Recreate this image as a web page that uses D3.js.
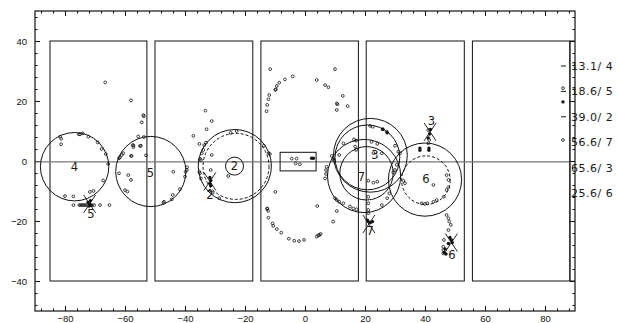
<!DOCTYPE html>
<html><head><meta charset="utf-8">
<script src="https://cdn.jsdelivr.net/npm/d3@7"></script>
<style>
body{margin:0;background:#fff}
svg{display:block}
.tk text{font-family:"Liberation Sans",Arial,sans-serif;font-size:9.5px;fill:#111}
.lbl{font-family:"DejaVu Sans",sans-serif;font-weight:normal;fill:#1a1a1a}
</style>
</head><body><svg id="c" width="618" height="323"></svg>
<script>
// ---- data (detector units) ----
const xTicks=[-80,-60,-40,-20,0,20,40,60,80];
const yTicks=[-40,-20,0,20,40];
const padX0=[-85,-50,-14.7,20.4,55.8];
const padX1=[-52.7,-17.4,17.8,53.1,88.3];
const padY=[-40,40];
const boxX=[-8.3,3.7];
const boxY=[-3.3,2.9];
const baseY=-0.3;
// solid rings
const ringX=[-76.8,-51.4,-23.4,21.8,20.8,19.7,20.5,40.0];
const ringY=[-1.9,-3.5,-1.7,1.9,1.2,-5.0,-4.1,-6.2];
const ringR=[11.4,11.7,12.2,12.3,10.8,12.2,8.9,12.2];
// dashed rings
const dRingX=[-23.0,40.3];
const dRingY=[-1.8,-6.4];
const dRingR=[11.0,8.1];
// ring labels
const ringLabel=["4","5","2","3","7","6"];
const ringLabelX=[-76.9,-51.5,-23.5,23.3,18.8,40.3];
const ringLabelY=[-2.1,-3.9,-1.7,2.0,-5.2,-6.1];
const circledLabel=[false,false,true,false,false,false];
// track stubs (stars)
const starX=[-71.8,-31.7,41.7,21.3,48.8];
const starY=[-14.3,-6.8,9.7,-21.0,-27.2];
const starLabel=["5","2","3","7","6"];
const starLabelX=[-71.4,-31.7,42.1,21.7,49.0];
const starLabelY=[-17.6,-11.3,13.5,-23.3,-31.3];
// open hits
const hitX=[-66.6,-58,-53.9,-53.7,-54.4,-55.6,-53.7,-54.7,-57.2,-53,-57.8,
-81.6,-81.3,-81.3,-75.4,-75,-74.1,-72.2,-69.1,-67.8,-66.4,-65.6,-67.3,-70.5,-71.7,-80,-77.2,
-77.2,-75.2,-74.8,-74.3,-73.9,-73.3,-72.8,-71.1,-70.3,-68.3,-65.2,
-62,-61.7,-61.1,-60.6,-62,-58.9,-58,-60,-59.2,-57.4,-57.2,-58,-55,-47,
-43.9,-39.8,-39.4,-39.3,-40,-41.7,-44.1,-44.4,-47.2,
-37.2,-35.2,-33.2,-32.8,-31.1,-33.6,-33,-34.4,-33.9,-35,-34.7,-31.1,-35,-34.7,-31.4,-30.8,-31.7,-28.6,-25.6,-24.8,-22.8,-13.7,-12.1,-11.7,-9.9,-12.6,-35.2,
-4.4,-2.8,-3.1,-1.7,
-11.6,-4.1,-6.7,-8.6,-9.4,-9.7,-9.9,-11.9,-12.2,-12.6,-12.8,3.9,6.7,7.8,10,12.6,10.6,10.8,10.6,14.2,
-12.6,-12.3,-12.2,-10.8,-10.6,-9.4,-7.9,-5.4,-3.6,-2,-0.3,3.9,4.4,5.2,4.8,4.1,9.4,10.6,
21.7,22.6,25.9,27.2,16.3,17,22.2,24.1,30,12.8,31.1,31.7,16.7,17,25.6,22.8,11.4,8.9,9.4,9.7,7.2,7,7,6.7,30.6,30,29.4,21.1,22.8,24.1,10,10.6,11.4,12.8,15,16.1,17.2,21.1,21.1,21.1,21.1,25.6,27.4,28.1,
33.3,32.8,47.2,47.8,47.8,47.2,46.3,43.9,42.8,40.8,40,38.9,42.8,47.2,47.8,48.1,48.6,47.8,46.3,46.1,46.1,46.1,
41.1,41.4,41.1,
86,86];
const hitY=[26.2,20.2,15.3,14.9,12.9,8.2,8,5.1,5.2,1.9,1.7,
8.1,7.4,5.6,8.9,8.9,9.2,8.1,6.2,4,2.3,-1,-6.5,-10,-10.3,-11.7,-11.8,
-14.7,-14.7,-14.7,-14.7,-14.7,-14.7,-14.7,-14.7,-14.7,-14.7,-14.7,
0.9,1.2,2,2.6,-4.1,-4.7,-6.3,-9.7,-10.2,5.3,4.6,1.7,5,-13.6,
-3.6,-3.6,-3,-2.1,-5.2,-9.4,-11.3,-12.8,-13.9,
8.4,5.7,16.8,10.6,13.3,5.3,6.1,2.6,3.7,0.7,0.3,2,-4.1,-5.8,-3,-10.6,-9.9,-12.4,-5,9.4,10,5.1,2.6,2.3,-10.3,-15.8,-3.6,
0.8,0.8,-0.8,-1.1,
30.6,28.2,27.2,26.1,25,23.9,23.7,22,20.6,18.7,16.6,27,25.3,24.6,30.6,21.7,19.2,18.9,17,18.3,
-16,-16.6,-18.9,-20.8,-21.6,-22.7,-23.9,-25.9,-26.6,-26.7,-26.3,-25.2,-24.8,-24.3,-24.7,-15,-20.2,-16.7,
11.7,11.4,10.6,9.8,7.2,6.8,6.4,5.7,5.1,5.9,3.1,2.6,4.8,3.7,2.6,2.6,2,1.7,0.7,0.1,-1.9,-3,-4.3,-5.8,-1.3,-3,-3.8,-6.6,-7.2,-6.9,-12.4,-13,-13.6,-14.1,-15.2,-15.8,-16.1,-11.9,-14.1,-16.3,-17.4,-14.7,-12.4,-10.8,
-7.4,-6.6,-4.7,-6.3,-8.8,-9.7,-11.9,-13,-13.6,-14.1,-14.3,-14.1,-8,-18,-19.1,-20.2,-21.3,-23,-26.3,-28.6,-29.7,-30.8,
10.3,7,5.9,
24.3,7];
// filled hits
const fillX=[-71.8,-72.3,-71.3,-72.0,-71.5,-31.7,-31.4,-31.7,-31.4,41.5,41.8,41.1,38.3,41.3,38.3,41.3,21.1,21.8,22.5,20.8,48.3,48.8,49.1,47.8,46.7,46.4,47.0,27.4,25.9,2.2,2.8,86];
const fillY=[-14.3,-13.8,-14.8,-15.0,-13.2,-5.5,-6.5,-7.5,-8.2,9.0,10.5,7.7,4.3,4.3,3.6,3.6,-20.2,-20.5,-20.2,-19.7,-25.5,-26.3,-27.2,-27.5,-29.3,-30.5,-31.0,9.4,10.6,0.9,0.9,19.7];
// side summary labels
const sideLabels=["13.1/ 4","18.6/ 5","39.0/ 2","56.6/ 7","65.6/ 3","25.6/ 6"];
const sideDash=[true,true,true,false,false,false];

// ---- drawing ----
const svg=d3.select("#c");
const x=d3.scaleLinear().domain([-90,90]).range([35,575]);
const y=d3.scaleLinear().domain([-50,50]).range([311,11]);
const minorX=d3.range(-88,89,4).filter(v=>v%20!==0);
const minorY=d3.range(-48,49,4).filter(v=>v%20!==0);

function ax(gen,tr,vals,size,labels,pad){
  const g=svg.append("g").attr("class","tk").attr("transform",tr)
   .call(gen.tickValues(vals).tickSizeInner(size).tickSizeOuter(0).tickPadding(pad||3)
   .tickFormat(labels?d3.format("d"):""));
  g.select(".domain").remove();
  g.selectAll("line").attr("stroke","#111").attr("stroke-width",1);
  return g;
}
ax(d3.axisBottom(x),"translate(0,311)",xTicks,-5,true,4);
ax(d3.axisBottom(x),"translate(0,311)",minorX,-2.5,false);
ax(d3.axisTop(x),"translate(0,11)",xTicks,-5,false);
ax(d3.axisTop(x),"translate(0,11)",minorX,-2.5,false);
ax(d3.axisLeft(y),"translate(35,0)",yTicks,-5,true,8);
ax(d3.axisLeft(y),"translate(35,0)",minorY,-2.5,false);
ax(d3.axisRight(y),"translate(575,0)",yTicks,-5,false);
ax(d3.axisRight(y),"translate(575,0)",minorY,-2.5,false);

// pads
svg.append("g").selectAll("rect").data(padX0).join("rect")
 .attr("x",(d)=>x(d)).attr("y",y(padY[1]))
 .attr("width",(d,i)=>x(padX1[i])-x(d)).attr("height",y(padY[0])-y(padY[1]))
 .attr("fill","none").attr("stroke","#111").attr("stroke-width",1);
svg.append("g").selectAll("line").data(padY).join("line")
 .attr("x1",x(padX1[4])).attr("x2",x(90)).attr("y1",d=>y(d)).attr("y2",d=>y(d))
 .attr("stroke","#111");
// base line
svg.append("line").attr("x1",x(-90)).attr("x2",x(padX1[4])).attr("y1",y(baseY)).attr("y2",y(baseY))
 .attr("stroke","#777").attr("stroke-width",1.2);
// central box
svg.append("rect").attr("x",x(boxX[0])).attr("y",y(boxY[1]))
 .attr("width",x(boxX[1])-x(boxX[0])).attr("height",y(boxY[0])-y(boxY[1]))
 .attr("fill","none").attr("stroke","#111");

// rings
const k=x(1)-x(0);
svg.append("g").selectAll("circle").data(ringX).join("circle")
 .attr("cx",d=>x(d)).attr("cy",(d,i)=>y(ringY[i])).attr("r",(d,i)=>ringR[i]*k)
 .attr("fill","none").attr("stroke","#111").attr("stroke-width",1);
svg.append("g").selectAll("circle").data(dRingX).join("circle")
 .attr("cx",d=>x(d)).attr("cy",(d,i)=>y(dRingY[i])).attr("r",(d,i)=>dRingR[i]*k)
 .attr("fill","none").attr("stroke","#111").attr("stroke-width",1).attr("stroke-dasharray","3,2");

// hits
svg.append("g").selectAll("circle").data(hitX).join("circle")
 .attr("cx",d=>x(d)).attr("cy",(d,i)=>y(hitY[i])).attr("r",1.4)
 .attr("fill","none").attr("stroke","#111").attr("stroke-width",0.8);
svg.append("g").selectAll("circle").data(fillX).join("circle")
 .attr("cx",d=>x(d)).attr("cy",(d,i)=>y(fillY[i])).attr("r",1.7)
 .attr("fill","#111");

// stars
const sg=svg.append("g").attr("stroke","#111").attr("stroke-width",0.9);
starX.forEach((sx,i)=>{
  const cx=x(sx),cy=y(starY[i]);
  sg.append("line").attr("x1",cx-6).attr("y1",cy-9).attr("x2",cx+6).attr("y2",cy+9);
  sg.append("line").attr("x1",cx+6).attr("y1",cy-9).attr("x2",cx-6).attr("y2",cy+9);
});
svg.append("g").selectAll("text").data(starLabel).join("text").attr("class","lbl")
 .attr("x",(d,i)=>x(starLabelX[i])).attr("y",(d,i)=>y(starLabelY[i]))
 .attr("text-anchor","middle").attr("dy","0.36em").attr("font-size",11.5).text(d=>d);

// ring labels
svg.append("g").selectAll("text").data(ringLabel).join("text").attr("class","lbl")
 .attr("x",(d,i)=>x(ringLabelX[i])).attr("y",(d,i)=>y(ringLabelY[i]))
 .attr("text-anchor","middle").attr("dy","0.36em").attr("font-size",11.5).text(d=>d);
svg.append("g").selectAll("circle").data(ringLabel.filter((d,i)=>circledLabel[i])).join("circle")
 .attr("cx",d=>x(ringLabelX[ringLabel.indexOf(d)])).attr("cy",d=>y(ringLabelY[ringLabel.indexOf(d)]))
 .attr("r",9).attr("fill","none").attr("stroke","#111");

// frame
svg.append("rect").attr("x",x(-90)).attr("y",y(50)).attr("width",x(90)-x(-90)).attr("height",y(-50)-y(50))
 .attr("fill","none").attr("stroke","#111").attr("stroke-width",1.2);

// side labels
const sy=d3.scalePoint().domain(d3.range(sideLabels.length)).range([66,193]);
svg.append("g").selectAll("text").data(sideLabels).join("text").attr("class","lbl")
 .attr("x",571).attr("y",(d,i)=>sy(i)).attr("dy","0.36em").attr("font-size",11)
 .attr("letter-spacing","0.5px").text(d=>d);
svg.append("g").selectAll("line").data(sideLabels.filter((d,i)=>sideDash[i])).join("line")
 .attr("x1",561).attr("x2",566).attr("y1",d=>sy(sideLabels.indexOf(d))).attr("y2",d=>sy(sideLabels.indexOf(d)))
 .attr("stroke","#111");
svg.append("line").attr("x1",x(padX1[4])).attr("x2",x(padX1[4])).attr("y1",y(40)).attr("y2",y(-40)).attr("stroke","#111");
</script></body></html>
